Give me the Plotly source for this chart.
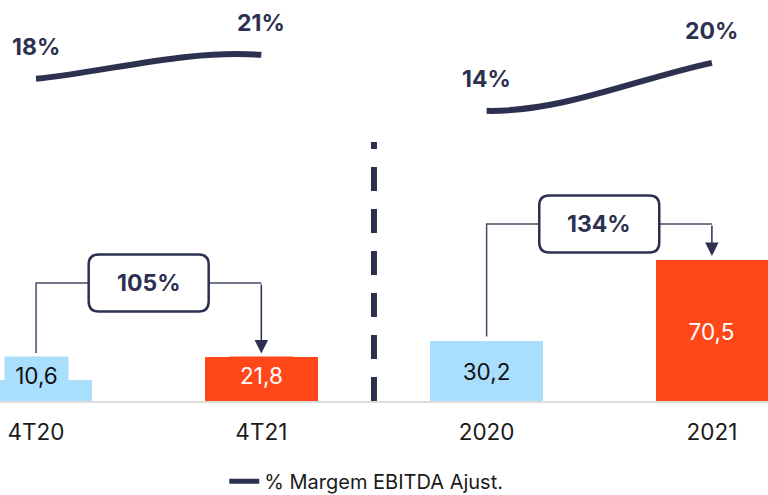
import plotly.graph_objects as go

# ---------------- data ----------------
categories = ["4T20", "4T21", "2020", "2021"]
ebitda = [10.6, 21.8, 30.2, 70.5]
margins = [18, 21, 14, 20]
growth_pairs = [(0, 1), (2, 3)]
growth_labels = ["105%", "134%"]
legend_name = "% Margem EBITDA Ajust."

# ---------------- style ----------------
NAVY = "#2d3150"
CONNECT = "#464b66"
BLUE = "#a9defd"
ORANGE = "#ff4719"
bar_colors = [BLUE, ORANGE, BLUE, ORANGE]
label_colors = ["#111111", "#ffffff", "#111111", "#ffffff"]
FONT = "Inter"
bracket_levels = [59, 88.5]      # height of growth brackets (primary axis units)
label_min_y = 13                 # minimum centre for bar value labels
divider_top = 129.5

xs = list(range(len(categories)))

fig = go.Figure()
fig.add_trace(go.Bar(
    x=xs, y=ebitda, width=0.5, marker=dict(color=bar_colors, line=dict(width=0)),
    showlegend=False, hoverinfo="skip"))

# legend entry for the margin line (curves drawn as smooth path shapes below)
fig.add_trace(go.Scatter(
    x=[None], y=[None], yaxis="y2", mode="lines", name=legend_name,
    line=dict(color=NAVY, width=5)))

shapes = []
annotations = []

# ---- smooth margin curves (Catmull-Rom through the full margin series) ----
n = len(margins)
def tangent(i):
    if i == 0:
        return (xs[1] - xs[0], margins[1] - margins[0])
    if i == n - 1:
        return (xs[-1] - xs[-2], margins[-1] - margins[-2])
    return ((xs[i + 1] - xs[i - 1]) / 2, (margins[i + 1] - margins[i - 1]) / 2)

for a, b in growth_pairs:
    ta, tb = tangent(a), tangent(b)
    c1 = (xs[a] + ta[0] / 3, margins[a] + ta[1] / 3)
    c2 = (xs[b] - tb[0] / 3, margins[b] - tb[1] / 3)
    path = (f"M{xs[a]},{margins[a]} C{c1[0]},{c1[1]} {c2[0]},{c2[1]} "
            f"{xs[b]},{margins[b]}")
    shapes.append(dict(type="path", path=path, xref="x", yref="y2",
                       line=dict(color=NAVY, width=6), layer="above"))

for i, m in enumerate(margins):
    annotations.append(dict(
        x=xs[i], y=m, xref="x", yref="y2", text=f"{m}%", showarrow=False,
        yanchor="middle", yshift=32,
        font=dict(family=FONT, size=23, color=NAVY, weight="bold")))

# ---- bar value labels ----
for i, v in enumerate(ebitda):
    annotations.append(dict(
        x=xs[i], y=max(v / 2, label_min_y), xref="x", yref="y",
        text=f"{v:.1f}".replace(".", ","), showarrow=False,
        bgcolor=bar_colors[i], width=63, height=36, borderpad=0,
        font=dict(family=FONT, size=22.5, color=label_colors[i])))

# ---- growth brackets ----
for (a, b), lvl, lab in zip(growth_pairs, bracket_levels, growth_labels):
    start = max(ebitda[a], max(ebitda[a] / 2, label_min_y) + 9) + 2
    shapes.append(dict(type="path", xref="x", yref="y",
                       path=f"M{xs[a]},{start} L{xs[a]},{lvl} L{xs[b]},{lvl}",
                       line=dict(color=CONNECT, width=1.5)))
    annotations.append(dict(
        x=xs[b], y=ebitda[b] + 2, ax=xs[b], ay=lvl, axref="x", ayref="y",
        xref="x", yref="y", text="", showarrow=True, arrowhead=2,
        arrowsize=1.8, arrowwidth=1.5, arrowcolor=NAVY))
    w, h, r = 60, 28.5, 10
    box = (f"M{-w + r},{h} L{w - r},{h} Q{w},{h} {w},{h - r} L{w},{-h + r} "
           f"Q{w},{-h} {w - r},{-h} L{-w + r},{-h} Q{-w},{-h} {-w},{-h + r} "
           f"L{-w},{h - r} Q{-w},{h} {-w + r},{h} Z")
    mid = (xs[a] + xs[b]) / 2
    shapes.append(dict(type="path", xref="x", yref="y", xsizemode="pixel",
                       ysizemode="pixel", xanchor=mid, yanchor=lvl, path=box,
                       fillcolor="white", line=dict(color=NAVY, width=2.5)))
    annotations.append(dict(
        x=mid, y=lvl, xref="x", yref="y", text=lab, showarrow=False,
        font=dict(family=FONT, size=23, color=NAVY, weight="bold")))

# ---- dashed divider between quarterly and annual ----
shapes.append(dict(type="line", xref="x", yref="y", x0=1.5, x1=1.5,
                   y0=0, y1=divider_top,
                   line=dict(color=NAVY, width=6, dash="24px,18px")))

fig.update_layout(
    width=768, height=495,
    margin=dict(l=0, r=0, t=0, b=94, autoexpand=False),
    plot_bgcolor="white", paper_bgcolor="white",
    separators=",.",
    bargap=0,
    font=dict(family=FONT, color="#1a1a1a"),
    xaxis=dict(range=[-0.16, 3.249], tickvals=xs, ticktext=categories,
               showgrid=False, zeroline=False, showline=True, automargin=False,
               linecolor="#dcdcdc", linewidth=2, ticks="",
               ticklabelstandoff=10,
               tickfont=dict(family=FONT, size=22.5, color="#1a1a1a")),
    yaxis=dict(range=[0, 200.5], visible=False, showgrid=False, zeroline=False,
               automargin=False),
    yaxis2=dict(range=[-22.25, 27.85], overlaying="y", visible=False,
                showgrid=False, zeroline=False, automargin=False),
    shapes=shapes,
    annotations=annotations,
    showlegend=True,
    legend=dict(orientation="h", x=0.292, xanchor="left", y=-0.2,
                yanchor="middle", font=dict(family=FONT, size=20, color="#1a1a1a"),
                bgcolor="rgba(0,0,0,0)"),
)

fig.write_html(
    "out.html",
    config={"displayModeBar": False},
    post_script="document.body.style.margin='0';document.body.style.overflow='hidden';",
)
